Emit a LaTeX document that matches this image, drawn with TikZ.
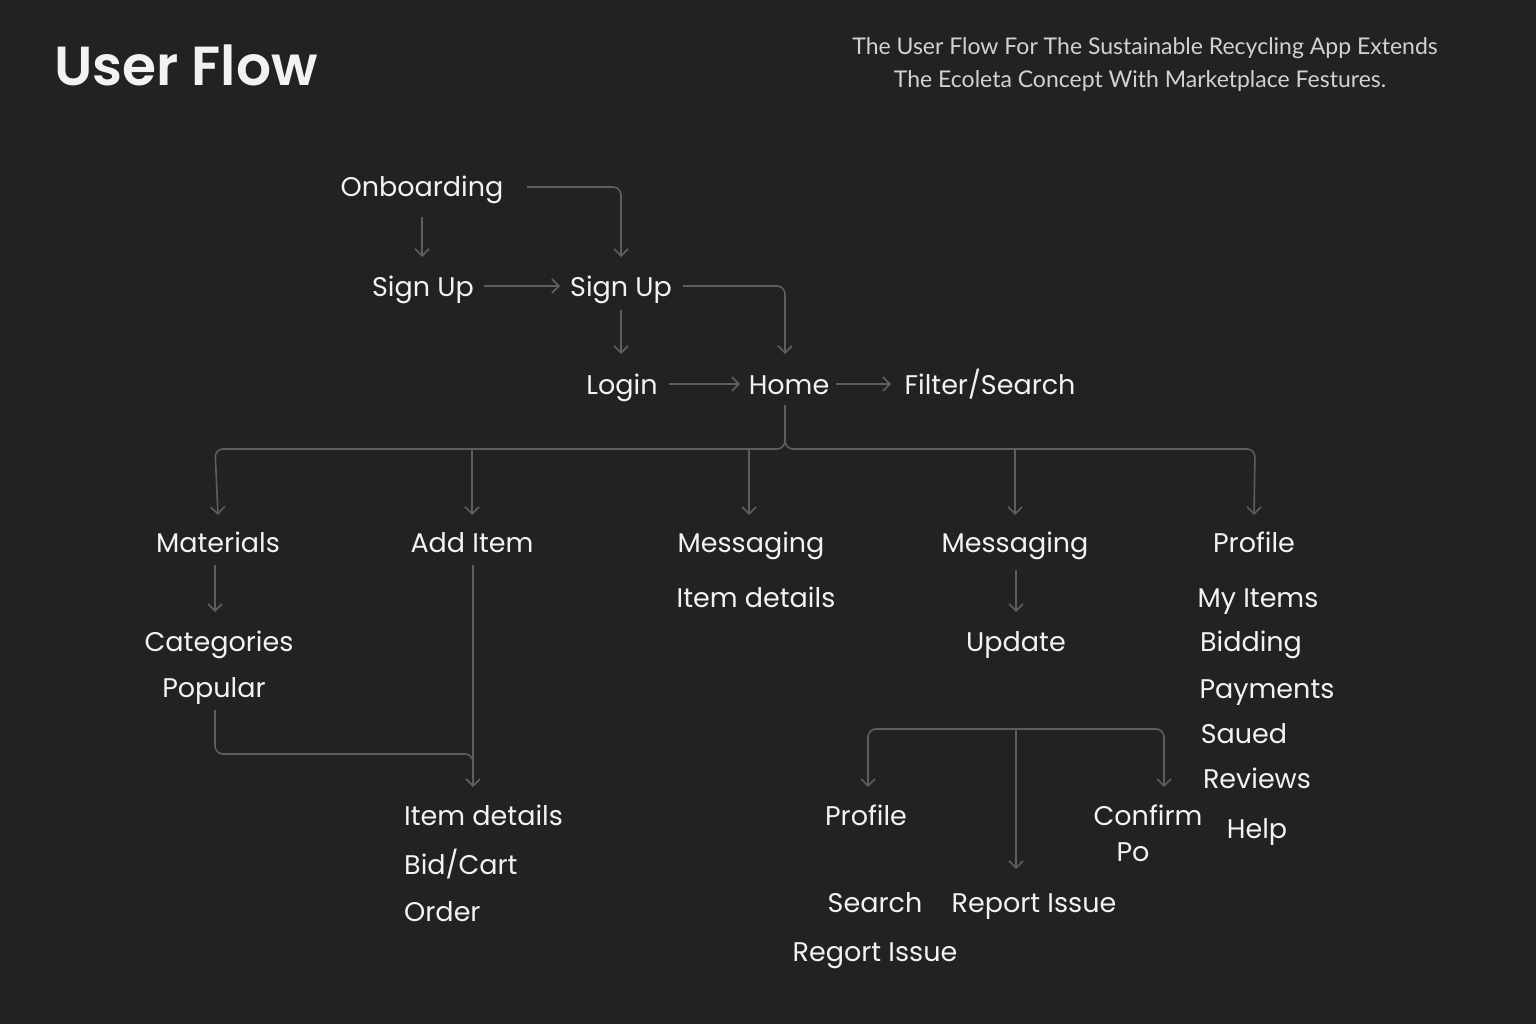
\documentclass[tikz,border=0pt]{standalone}
\usepackage{fontspec}
\setmainfont{Poppins}
\newfontfamily\titlefont{Poppins}[UprightFont=* SemiBold]
\newfontfamily\subfont{Lato}
\usetikzlibrary{arrows.meta,calc}
\definecolor{bg}{HTML}{222222}
\definecolor{ln}{HTML}{5E5E5E}
\definecolor{tx}{HTML}{F2F2F2}
\definecolor{subc}{HTML}{D2D2D2}
\tikzset{
  lbl/.style={text=tx, font=\fontsize{27}{32}\selectfont, inner sep=0pt, text height=20pt, text depth=0pt, anchor=center},
  conn/.style={draw=ln, line width=1.6pt},
  arr/.style={conn, -{Straight Barb[length=7pt,width=14pt,line width=1.6pt]}},
  rc/.style={rounded corners=8pt}
}
\begin{document}
\begin{tikzpicture}[x=1pt,y=-1pt]
\fill[bg] (0,0) rectangle (1536,1024);
\useasboundingbox (0,0) rectangle (1536,1024);

% title and subtitle
\node[anchor=west, text=tx, font=\titlefont\fontsize{55}{64}\selectfont, inner sep=0pt, text height=40pt, text depth=0pt] (title) at (54,66) {User Flow};
\node[text=subc, font=\subfont\fontsize{23}{27}\selectfont, inner sep=0pt, text height=16pt, text depth=0pt] (sub1) at (1145,47) {The User Flow For The Sustainable Recycling App Extends};
\node[text=subc, font=\subfont\fontsize{23}{27}\selectfont, inner sep=0pt, text height=16pt, text depth=0pt] (sub2) at (1140,80) {The Ecoleta Concept With Marketplace Festures.};

% top nodes
\node[lbl] (onb) at (422,187) {Onboarding};
\node[lbl] (su1) at (423,286) {Sign Up};
\node[lbl] (su2) at (621,286) {Sign Up};
\node[lbl] (login) at (622,384) {Login};
\node[lbl] (home) at (789,384) {Home};
\node[lbl] (filt) at (990,384) {Filter/Search};

% second level
\node[lbl] (mat) at (218,542) {Materials};
\node[lbl] (add) at (472,542) {Add Item};
\node[lbl] (msg1) at (751,542) {Messaging};
\node[lbl] (msg2) at (1015,542) {Messaging};
\node[lbl] (prof1) at (1254,542) {Profile};

\node[lbl] (cat) at (219,641) {Categories};
\node[lbl] (pop) at (214,687) {Popular};
\node[lbl] (idet1) at (756,597) {Item details};
\node[lbl] (upd) at (1016,641) {Update};

\node[lbl] (myit) at (1258,597) {My Items};
\node[lbl] (bid) at (1251,641) {Bidding};
\node[lbl] (pay) at (1267,688) {Payments};
\node[lbl] (saued) at (1244,733) {Saued};
\node[lbl] (rev) at (1257,778) {Reviews};
\node[lbl] (help) at (1257,828) {Help};

\node[lbl, anchor=west] (idet2) at (404,815) {Item details};
\node[lbl, anchor=west] (bidc) at (404,864) {Bid/Cart};
\node[lbl, anchor=west] (order) at (404,911) {Order};

\node[lbl] (prof2) at (866,815) {Profile};
\node[lbl] (conf) at (1148,815) {Confirm};
\node[lbl] (po) at (1133,851) {Po};
\node[lbl] (search) at (875,902) {Search};
\node[lbl] (rep) at (1034,902) {Report Issue};
\node[lbl] (regort) at (875,951) {Regort Issue};

% connectors, top
\draw[arr] (onb |- 0,217) -- (onb |- 0,257);
\draw[arr, rc] (onb.east -| 527,0) -| (su2 |- 0,257);
\draw[arr] (su1.east -| 484,0) -- (su2.west -| 560,0);
\draw[arr] (su2 |- 0,310) -- (su2 |- 0,354);
\draw[arr, rc] (su2.east -| 683,0) -| (785,354);
\draw[arr] (login.east -| 669,0) -- (home.west -| 740,0);
\draw[arr] (home.east -| 836,0) -- (filt.west -| 891,0);

% bus from home
\coordinate (hb) at (785,449);
\draw[arr, rc] (785,405) -- (hb) -- (215,449) -- (mat |- 0,515);
\draw[arr, rc] (785,405) -- (hb) -- (1255,449) -- (prof1 |- 0,515);
\draw[arr] (add |- hb) -- (add |- 0,515);
\draw[arr] (749,449) -- (749,515);
\draw[arr] (msg2 |- hb) -- (msg2 |- 0,515);

% second level connectors
\draw[arr] (215,565) -- (215,612);
\draw[arr] (473,565) -- (473,787);
\draw[conn, rc] (215,710) -- (215,754) -- (473,754) -- (473,778);
\draw[arr] (upd |- 0,570) -- (upd |- 0,612);

% lower bus
\coordinate (lb) at (1016,729);
\draw[arr] (lb) -- (1016,869);
\draw[arr, rc] (lb) -- (868,729) -- (868,787);
\draw[arr, rc] (lb) -- (1164,729) -- (1164,787);
\end{tikzpicture}
\end{document}
